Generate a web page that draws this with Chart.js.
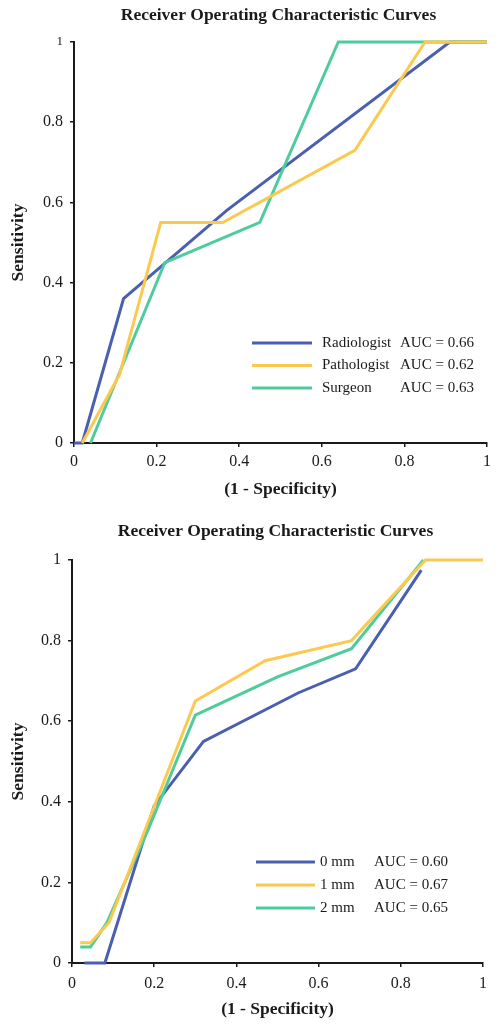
<!DOCTYPE html>
<html>
<head>
<meta charset="utf-8">
<script src="https://cdn.jsdelivr.net/npm/chart.js@4.4.1/dist/chart.umd.min.js"></script>
<style>
    body { margin: 0; background: #fff; }
    #top { position: absolute; left: 0; top: 0; width: 498px; height: 500px; }
    #bottom { position: absolute; left: 0; top: 500px; width: 498px; height: 527px; }
</style>
</head>
<body>
<div id="top"><canvas id="rocTop"></canvas></div>
<div id="bottom"><canvas id="rocBottom"></canvas></div>
<script>
// values
const tickStep = 0.2;
const chartTitle = 'Receiver Operating Characteristic Curves';

const radiologistX = [0, 0.02, 0.12, 0.37, 0.91, 1];
const radiologistY = [0, 0, 0.36, 0.58, 1, 1];
const pathologistX = [0.02, 0.11, 0.21, 0.36, 0.68, 0.85, 1];
const pathologistY = [0, 0.17, 0.55, 0.55, 0.73, 1, 1];
const surgeonX = [0.04, 0.22, 0.45, 0.64, 1];
const surgeonY = [0, 0.45, 0.55, 1, 1];
const topNames = ['Radiologist', 'Pathologist', 'Surgeon'];
const topAuc = ['AUC = 0.66', 'AUC = 0.62', 'AUC = 0.63'];

const mm0X = [0.03, 0.08, 0.2, 0.32, 0.55, 0.69, 0.85];
const mm0Y = [0, 0, 0.39, 0.55, 0.67, 0.73, 0.975];
const mm1X = [0.02, 0.045, 0.09, 0.3, 0.47, 0.68, 0.86, 1];
const mm1Y = [0.05, 0.05, 0.1, 0.65, 0.75, 0.8, 1, 1];
const mm2X = [0.02, 0.045, 0.085, 0.185, 0.3, 0.5, 0.68, 0.855];
const mm2Y = [0.04, 0.04, 0.1, 0.33, 0.615, 0.71, 0.78, 1];
const bottomNames = ['0 mm', '1 mm', '2 mm'];
const bottomAuc = ['AUC = 0.60', 'AUC = 0.67', 'AUC = 0.65'];

const BLUE = '#4a5fb0', YELLOW = '#fcc94f', GREEN = '#4ecc9c';
const SERIF = '"Liberation Serif", "Times New Roman", serif';
const INK = '#1a1a1a';

function toPoints(xs, ys) {
    return xs.map((x, i) => ({ x: x, y: ys[i] }));
}

function makeSet(label, xs, ys, color, order) {
    return {
        label: label,
        data: toPoints(xs, ys),
        borderColor: color,
        backgroundColor: color,
        borderWidth: 3,
        pointRadius: 0,
        tension: 0,
        clip: false,
        order: order
    };
}

// title centred over the plot area, not the canvas
const rocTitle = {
    id: 'rocTitle',
    afterDraw(chart, args, opts) {
        const ctx = chart.ctx;
        const area = chart.chartArea;
        ctx.save();
        ctx.font = 'bold 17.5px ' + SERIF;
        ctx.fillStyle = INK;
        ctx.textAlign = 'center';
        ctx.textBaseline = 'middle';
        ctx.fillText(chartTitle, (area.left + area.right) / 2 - 2, opts.y);
        ctx.restore();
    }
};

// two column legend drawn inside the plot area
const rocLegend = {
    id: 'rocLegend',
    afterDatasetsDraw(chart, args, opts) {
        const ctx = chart.ctx;
        const area = chart.chartArea;
        ctx.save();
        ctx.font = '15px ' + SERIF;
        ctx.textBaseline = 'middle';
        ctx.fillStyle = INK;
        opts.names.forEach((name, i) => {
            const y = area.top + opts.rowTop + i * opts.rowGap;
            ctx.strokeStyle = opts.colors[i];
            ctx.lineWidth = 3;
            ctx.beginPath();
            ctx.moveTo(area.left + opts.lineFrom, y);
            ctx.lineTo(area.left + opts.lineTo, y);
            ctx.stroke();
            ctx.fillText(name, area.left + opts.textAt, y);
            ctx.fillText(opts.auc[i], area.left + opts.aucAt, y);
        });
        ctx.restore();
    }
};

function axis(title, opts) {
    return {
        type: 'linear',
        min: 0,
        max: 1,
        border: { display: true, color: INK, width: 2 },
        grid: { display: true, drawOnChartArea: false, drawTicks: true, tickLength: 4, color: INK, lineWidth: 1.5 },
        ticks: {
            stepSize: tickStep,
            color: INK,
            padding: opts.tickPad,
            font: opts.tickFont || { family: SERIF, size: 16 },
            maxRotation: 0,
            callback: v => String(Number(v.toFixed(1)))
        },
        title: {
            display: true,
            text: title,
            color: INK,
            font: { family: SERIF, size: 17.5, weight: 'bold' },
            padding: opts.titlePad
        },
        afterFit: opts.fit
    };
}

function makeChart(id, sets, legendOpts, lay) {
    return new Chart(document.getElementById(id), {
        type: 'line',
        data: { datasets: sets },
        options: {
            responsive: true,
            maintainAspectRatio: false,
            animation: false,
            layout: { padding: { left: 0, right: lay.right, top: lay.top, bottom: 0 } },
            plugins: {
                legend: { display: false },
                tooltip: { enabled: false },
                title: { display: false },
                rocTitle: { y: lay.titleY },
                rocLegend: legendOpts
            },
            scales: {
                x: axis('(1 - Specificity)', {
                    tickPad: lay.xTickPad,
                    titlePad: { top: 0, bottom: lay.xTitleBottom },
                    fit: s => { s.height = lay.xHeight; }
                }),
                y: axis('Sensitivity', {
                    tickPad: 7,
                    tickFont: lay.yTickFont,
                    titlePad: { top: 8, bottom: 0 },
                    fit: s => { s.width = lay.yWidth; }
                })
            }
        },
        plugins: [rocTitle, rocLegend]
    });
}

makeChart('rocTop', [
    makeSet('Radiologist', radiologistX, radiologistY, BLUE, 2),
    makeSet('Pathologist', pathologistX, pathologistY, YELLOW, 0),
    makeSet('Surgeon', surgeonX, surgeonY, GREEN, 1)
], {
    names: topNames, auc: topAuc, colors: [BLUE, YELLOW, GREEN],
    rowTop: 301, rowGap: 22.5, lineFrom: 178, lineTo: 238, textAt: 248, aucAt: 326
}, {
    right: 11, top: 42, titleY: 15, yWidth: 74, xHeight: 57, xTickPad: 5, xTitleBottom: 0,
    yTickFont: ctx => ({ family: SERIF, size: ctx.tick && ctx.tick.value === 1 ? 13 : 16 })
});

makeChart('rocBottom', [
    makeSet('0 mm', mm0X, mm0Y, BLUE, 2),
    makeSet('1 mm', mm1X, mm1Y, YELLOW, 0),
    makeSet('2 mm', mm2X, mm2Y, GREEN, 1)
], {
    names: bottomNames, auc: bottomAuc, colors: [BLUE, YELLOW, GREEN],
    rowTop: 302, rowGap: 23, lineFrom: 184, lineTo: 243, textAt: 248, aucAt: 302
}, {
    right: 15, top: 60, titleY: 31, yWidth: 72, xHeight: 64, xTickPad: 7, xTitleBottom: 7,
    yTickFont: { family: SERIF, size: 16 }
});
</script>
</body>
</html>
